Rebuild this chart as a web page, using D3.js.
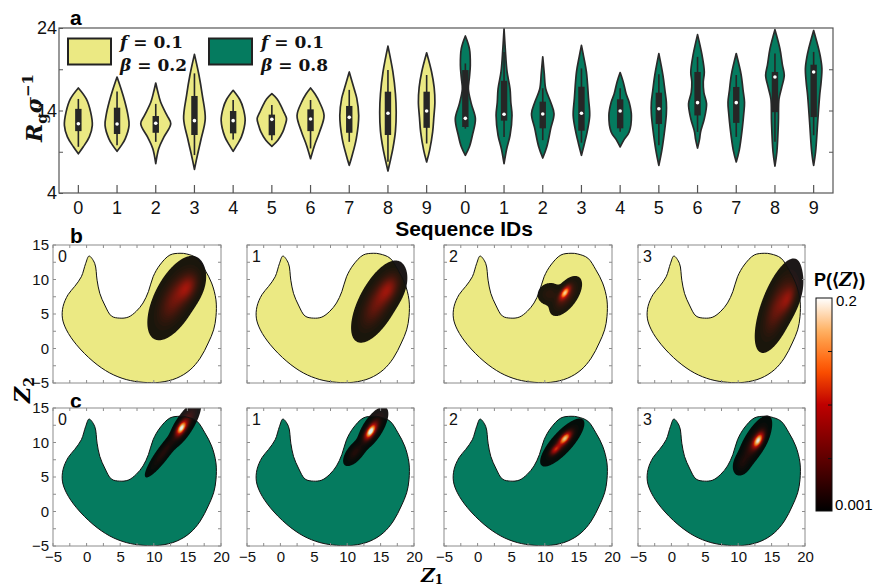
<!DOCTYPE html>
<html><head><meta charset="utf-8">
<script src="https://cdn.jsdelivr.net/npm/d3@7"></script>
<style>body{margin:0;background:#fff}svg{display:block}</style>
</head><body>
<svg id="chart" width="876" height="586"></svg>
<script>
// ---------------- DATA ----------------
const seqIds = ["0","1","2","3","4","5","6","7","8","9"];
const groupLabels = [["f","0.1","β","0.2"],["f","0.1","β","0.8"]];
const groupColors = ["#ebe983","#057b5f"];
// violin profiles: [Rg value, relative half width]
const violinsYellow = [
  [[8.76,0],[9.6,0.33],[10.8,0.73],[12.2,0.93],[13.8,0.82],[15.4,0.53],[16.73,0]],
  [[9.05,0],[9.8,0.3],[10.6,0.55],[12.2,0.8],[13.5,0.72],[15.0,0.53],[16.6,0.27],[18.06,0]],
  [[7.55,0],[9.4,0.2],[10.8,0.55],[12.4,1.0],[13.4,0.75],[15.0,0.33],[16.4,0.12],[17.33,0]],
  [[6.87,0],[8.6,0.2],[10.6,0.45],[13.0,0.72],[15.9,0.52],[18.3,0.3],[20.8,0]],
  [[9.05,0],[9.8,0.25],[10.8,0.55],[12.8,0.8],[14.2,0.68],[15.3,0.45],[16.45,0]],
  [[9.66,0],[10.4,0.4],[11.4,0.73],[12.2,0.88],[13.0,0.98],[13.8,0.8],[14.6,0.6],[15.4,0.35],[16.04,0]],
  [[8.16,0],[9.8,0.27],[11.4,0.6],[13.4,0.9],[15.0,0.6],[16.0,0.3],[16.73,0]],
  [[7.35,0],[8.4,0.17],[10.6,0.47],[13.4,0.63],[15.5,0.5],[16.6,0.33],[18.67,0]],
  [[6.67,0],[7.7,0.13],[9.4,0.33],[11.5,0.5],[13.8,0.55],[16.0,0.5],[18.67,0.33],[21.8,0]],
  [[7.76,0],[9.2,0.2],[11.4,0.4],[13.2,0.48],[15.0,0.55],[16.8,0.5],[18.67,0.33],[21.0,0]]
];
const violinsGreen = [
  [[8.57,0],[9.6,0.27],[11.0,0.47],[13.0,0.67],[14.8,0.4],[16.6,0.2],[18.0,0.27],[19.5,0.33],[21.5,0.27],[23.03,0]],
  [[7.55,0],[9.3,0.17],[11.0,0.4],[13.4,0.53],[15.0,0.45],[16.6,0.4],[18.7,0.2],[21.5,0.08],[23.9,0]],
  [[8.24,0],[9.6,0.27],[11.8,0.53],[13.6,0.75],[15.0,0.53],[16.6,0.2],[18.5,0.1],[20.5,0]],
  [[8.57,0],[10.0,0.2],[11.6,0.4],[13.4,0.55],[15.5,0.47],[18.67,0.33],[20.5,0.15],[21.9,0]],
  [[9.58,0],[10.5,0.27],[11.4,0.6],[13.4,0.75],[15.0,0.6],[16.0,0.4],[17.5,0.2],[18.6,0]],
  [[7.35,0],[9.2,0.2],[11.8,0.4],[13.6,0.5],[15.0,0.5],[16.5,0.4],[18.3,0.27],[20.9,0]],
  [[9.45,0],[10.5,0.13],[11.4,0.2],[13.0,0.45],[14.8,0.6],[16.2,0.42],[17.45,0.38],[18.67,0.45],[20.7,0.3],[23.2,0]],
  [[7.76,0],[9.2,0.2],[11.8,0.4],[13.6,0.5],[15.0,0.55],[16.5,0.45],[18.3,0.33],[20.9,0]],
  [[7.27,0],[9.0,0.13],[12.6,0.23],[15.4,0.27],[16.8,0.45],[18.27,0.62],[19.5,0.5],[21.5,0.33],[23.8,0]],
  [[7.35,0],[9.0,0.13],[12.6,0.27],[15.8,0.4],[17.5,0.5],[19.1,0.55],[20.5,0.45],[21.5,0.33],[23.7,0]]
];
// box stats: [whisker low, q1, median, q3, whisker high]
const boxYellow = [
  [9.6,11.5,12.4,14.2,15.4],[9.8,11.15,12.36,14.34,16.3],[10.2,11.3,12.45,13.33,14.8],
  [8.6,11.03,12.77,15.76,18.5],[10.5,11.23,12.77,13.94,15.27],[10.4,11.0,12.93,13.5,14.67],
  [9.4,11.5,12.97,14.14,15.27],[10.2,11.3,13.17,14.55,16.5],[7.8,11.03,13.66,16.28,18.9],
  [10.0,11.9,13.94,16.28,18.3]
];
const boxGreen = [
  [11.8,12.0,13.05,18.9,19.7],[10.8,12.77,13.54,17.6,21.1],[10.4,11.84,13.58,15.07,16.7],
  [10.1,11.55,13.66,16.88,19.1],[11.43,11.84,13.94,15.36,16.7],[9.8,12.36,14.22,16.16,18.4],
  [11.4,13.4,14.95,18.67,20.5],[10.8,12.5,14.95,16.85,18.3],[10.2,13.8,18.06,18.67,20.9],
  [11.0,13.2,18.67,19.55,21.1]
];
const rgTicks = [4,9,14,19,24];
const rgTickLabels = [4,14,24];

// free-energy landscape outline (Z1, Z2)
const landscape = [[0.37,13.4],[1.2,12.35],[1.56,9.9],[1.96,8.0],[2.7,6.3],[3.7,4.7],[4.94,4.4],[6.2,4.55],
  [7.4,5.4],[8.4,6.6],[9.2,8.25],[9.9,10.4],[10.9,12.1],[12.4,13.55],[13.9,13.8],[14.9,13.7],[16.4,13.1],
  [17.6,11.4],[18.6,9.5],[19.25,7.05],[19.25,4.6],[18.9,2.7],[18.1,0.8],[16.9,-1.4],[15.4,-3.1],[13.4,-4.3],
  [10.9,-4.9],[8.4,-4.9],[5.9,-4.5],[3.45,-3.55],[0.96,-1.87],[-1.5,0.54],[-3.0,2.7],[-3.6,4.4],[-3.5,6.1],
  [-2.76,7.8],[-1.77,9.0],[-0.78,10.4],[-0.13,12.35]];
// probability density components: center [Z1,Z2], sigma [major,minor], angle (deg), peak P
const densityB = [
  [{c:[13.2,7.3],s:[2.4,1.1],a:62,p:0.05},{c:[15.0,8.8],s:[1.3,0.8],a:62,p:0.055}],
  [{c:[14.6,6.75],s:[2.35,1.0],a:61,p:0.05},{c:[16.2,8.6],s:[1.3,0.8],a:61,p:0.05}],
  [{c:[13.0,8.1],s:[0.7,0.32],a:55,p:0.15},{c:[13.1,7.6],s:[1.25,0.62],a:53,p:0.04},{c:[10.7,7.9],s:[0.8,0.7],a:20,p:0.012}],
  [{c:[16.0,6.2],s:[2.6,0.9],a:68.8,p:0.05},{c:[17.5,7.2],s:[1.4,0.6],a:68.8,p:0.05}]
];
const densityC = [
  [{c:[14.1,12.1],s:[0.75,0.35],a:58,p:0.17},{c:[14.6,12.6],s:[1.5,0.5],a:58,p:0.04},{c:[11.5,8.6],s:[1.85,0.4],a:53,p:0.02}],
  [{c:[13.5,11.6],s:[0.8,0.35],a:57,p:0.18},{c:[13.8,12.0],s:[1.35,0.55],a:57,p:0.04},{c:[11.2,8.6],s:[1.0,0.48],a:50,p:0.02}],
  [{c:[13.0,10.6],s:[0.75,0.35],a:47,p:0.15},{c:[11.6,9.0],s:[0.6,0.3],a:45,p:0.09},{c:[12.6,10.0],s:[1.7,0.58],a:47,p:0.035}],
  [{c:[13.0,10.3],s:[0.8,0.38],a:60,p:0.17},{c:[12.4,9.9],s:[1.7,0.62],a:60,p:0.035},{c:[10.6,7.0],s:[0.8,0.55],a:65,p:0.012}]
];
const panelIds = ["0","1","2","3"];
const z1Ticks = [-5,0,5,10,15,20];
const z2Ticks = [-5,0,5,10,15];
const cmapColors = ["#000000","#400000","#800000","#bf0000","#ff5500","#ffaa55","#ffffff"];
const pRange = [0.001, 0.2];
const pTicks = [0.05, 0.1, 0.15];
const pTickLabels = ["0.001","0.2"];

// ---------------- DRAWING ----------------
const svg = d3.select("#chart");
const SANS = "Liberation Sans, Arial, sans-serif";
const SERIF = "DejaVu Serif, serif";
const cmap = d3.piecewise(d3.interpolateRgb, cmapColors);

// ===== Panel a =====
const A = {l:59, r:833, t:28, b:193};
const allViolins = violinsYellow.concat(violinsGreen);
const allBoxes = boxYellow.concat(boxGreen);
const x = d3.scaleBand().domain(d3.range(allViolins.length)).range([A.l, A.r]);
const y = d3.scaleLinear().domain([4,24]).range([A.b, A.t]);
const w = d3.scaleLinear().domain([0,1]).range([0,15]);
const gA = svg.append("g");

allViolins.forEach((prof, i) => {
  const cx = x(i) + x.bandwidth()/2;
  const col = groupColors[i < 10 ? 0 : 1];
  const area = d3.area().curve(d3.curveCatmullRom.alpha(0.5))
    .y(d => y(d[0])).x0(d => cx - w(d[1])).x1(d => cx + w(d[1]));
  gA.append("path").attr("d", area(prof)).attr("fill", col)
    .attr("stroke", "#2a2a2a").attr("stroke-width", 1.7).attr("stroke-linejoin","round");
  const bs = allBoxes[i];
  gA.append("line").attr("x1", cx).attr("x2", cx).attr("y1", y(bs[0])).attr("y2", y(bs[4]))
    .attr("stroke", "#262626").attr("stroke-width", 1.6);
  gA.append("rect").attr("x", cx-3.2).attr("width", 6.4).attr("y", y(bs[3])).attr("height", y(bs[1]) - y(bs[3]))
    .attr("fill", "#262626");
  gA.append("circle").attr("cx", cx).attr("cy", y(bs[2])).attr("r", 1.8).attr("fill", "#fff");
});

gA.append("rect").attr("x", A.l).attr("y", A.t).attr("width", A.r-A.l).attr("height", A.b-A.t)
  .attr("fill","none").attr("stroke","#555").attr("stroke-width",1.2);

const xAxis = d3.axisBottom(x).tickSize(-8).tickPadding(8).tickFormat(i => seqIds[i % 10]);
const gx = gA.append("g").attr("transform", `translate(0,${A.b})`).call(xAxis);
gx.select(".domain").remove();
gx.selectAll("line").attr("stroke","#555").attr("stroke-width",1.2);
gx.selectAll("text").attr("font-family", SANS).attr("font-size", 18).attr("fill","#111");

const yAxis = d3.axisLeft(y).tickValues(rgTicks).tickSize(-4).tickPadding(2)
  .tickFormat(v => rgTickLabels.includes(v) ? v : "");
const gy = gA.append("g").attr("transform", `translate(${A.l},0)`).call(yAxis);
gy.select(".domain").remove();
gy.selectAll("line").attr("stroke","#555");
gy.selectAll("text").attr("font-family", SANS).attr("font-size", 18).attr("fill","#111");
const yAxisR = d3.axisRight(y).tickValues(rgTicks.slice(1,4)).tickSize(-4).tickFormat("");
const gyr = gA.append("g").attr("transform", `translate(${A.r},0)`).call(yAxisR);
gyr.select(".domain").remove();
gyr.selectAll("line").attr("stroke","#555");

// axis titles
gA.append("text").attr("x", 464).attr("y", 236).attr("text-anchor","middle")
  .attr("font-family", SANS).attr("font-weight","bold").attr("font-size", 21).text("Sequence IDs");
const yl = gA.append("text").attr("transform","translate(42,108) rotate(-90)").attr("text-anchor","middle")
  .attr("font-family", SERIF).attr("font-weight","bold").attr("font-size", 22).attr("fill","#111");
yl.append("tspan").attr("font-style","italic").text("R");
yl.append("tspan").attr("font-size",15).attr("dy",5).text("g");
yl.append("tspan").attr("font-style","italic").attr("dy",-5).text("σ");
yl.append("tspan").attr("font-size",15).attr("dy",-9).text("−1");

// panel letters
[["a",25],["b",243],["c",408]].forEach(([t,yy]) =>
  svg.append("text").attr("x",70).attr("y",yy).attr("font-family",SANS).attr("font-weight","bold")
    .attr("font-size",21).text(t));

// legend
groupLabels.forEach((lab, k) => {
  const lx = [68, 209][k];
  svg.append("rect").attr("x", lx).attr("y", 38.5).attr("width", 43).attr("height", 26)
    .attr("fill", groupColors[k]).attr("stroke","#222").attr("stroke-width",2);
  [[lab[0],lab[1],48],[lab[2],lab[3],71]].forEach(([sym,val,by]) => {
    const t = svg.append("text").attr("x", lx + 52).attr("y", by).attr("font-family", SERIF)
      .attr("font-weight","bold").attr("font-size",17).attr("fill","#111");
    t.append("tspan").attr("font-style","italic").text(sym);
    t.append("tspan").text(" = " + val);
  });
});

// ===== Panels b & c =====
const colX = [[53,221],[247,414],[444,612],[638,805]];
const rowY = [[245,383],[408,546]];
const rows = [{dens: densityB, fill: groupColors[0]}, {dens: densityC, fill: groupColors[1]}];
const step = 0.1, nx = 251, ny = 201;
const nLev = 50;
const levels = d3.range(nLev).map(k => pRange[0] + (pRange[1]-pRange[0]) * k / nLev);

function grid(comps){
  const vals = new Float64Array(nx*ny);
  const pre = comps.map(c => {const r = c.a*Math.PI/180; return {cx:c.c[0], cy:c.c[1], co:Math.cos(r), si:Math.sin(r), a2:c.s[0]*c.s[0], b2:c.s[1]*c.s[1], p:c.p};});
  for (let j=0;j<ny;j++){ const z2 = -5 + j*step;
    for (let i=0;i<nx;i++){ const z1 = -5 + i*step; let v = 0;
      for (const c of pre){ const dx=z1-c.cx, dy=z2-c.cy; const u=dx*c.co+dy*c.si, vv=-dx*c.si+dy*c.co;
        v += c.p*Math.exp(-0.5*(u*u/c.a2 + vv*vv/c.b2)); }
      vals[i + j*nx] = v; } }
  return vals;
}

let clipN = 0;
rows.forEach((row, ri) => {
  colX.forEach((cx, ci) => {
    const [x0,x1] = cx, [y0,y1] = rowY[ri];
    const zx = d3.scaleLinear().domain([-5,20]).range([x0,x1]);
    const zy = d3.scaleLinear().domain([-5,15]).range([y1,y0]);
    const id = "clip" + (clipN++);
    svg.append("clipPath").attr("id", id).append("rect").attr("x",x0).attr("y",y0).attr("width",x1-x0).attr("height",y1-y0);
    const g = svg.append("g").attr("clip-path", `url(#${id})`);
    const line = d3.line().curve(d3.curveCatmullRomClosed.alpha(0.5)).x(d=>zx(d[0])).y(d=>zy(d[1]));
    g.append("path").attr("d", line(landscape)).attr("fill", row.fill);
    const vals = grid(row.dens[ci]);
    const conts = d3.contours().size([nx,ny]).thresholds(levels)(vals);
    const proj = d3.geoTransform({point(px,py){ this.stream.point(zx(-5+(px-0.5)*step), zy(-5+(py-0.5)*step)); }});
    const gp = d3.geoPath(proj);
    const gb = g.append("g").attr("opacity",0.9);
    conts.forEach((c,k) => {
      if (!c.coordinates.length) return;
      gb.append("path").attr("d", gp(c)).attr("fill", cmap((k+0.5)/nLev));
    });
    g.append("path").attr("d", line(landscape)).attr("fill","none").attr("stroke","#111").attr("stroke-width",1);
    svg.append("rect").attr("x",x0).attr("y",y0).attr("width",x1-x0).attr("height",y1-y0)
      .attr("fill","none").attr("stroke","#8c8c8c").attr("stroke-width",1);
    const tx = d3.range(-5, 20.01, 2.5), ty = d3.range(-5, 15.01, 2.5);
    const tk = svg.append("g").attr("stroke","#8c8c8c").attr("stroke-width",1);
    tx.forEach(v => { tk.append("line").attr("x1",zx(v)).attr("x2",zx(v)).attr("y1",y1).attr("y2",y1-3);
                      tk.append("line").attr("x1",zx(v)).attr("x2",zx(v)).attr("y1",y0).attr("y2",y0+3); });
    ty.forEach(v => { tk.append("line").attr("y1",zy(v)).attr("y2",zy(v)).attr("x1",x0).attr("x2",x0+3);
                      tk.append("line").attr("y1",zy(v)).attr("y2",zy(v)).attr("x1",x1).attr("x2",x1-3); });
    svg.append("text").attr("x", x0+5).attr("y", y0+17).attr("font-family",SANS).attr("font-size",16)
      .attr("fill","#111").text(panelIds[ci]);
    if (ci === 0) {
      const ay = d3.axisLeft(zy).tickValues(z2Ticks).tickSize(0).tickPadding(4);
      const ga = svg.append("g").attr("transform",`translate(${x0},0)`).call(ay);
      ga.select(".domain").remove();
      ga.selectAll("text").attr("font-family",SANS).attr("font-size",15).attr("fill","#111");
    }
    if (ri === 1) {
      const ax = d3.axisBottom(zx).tickValues(z1Ticks).tickSize(0).tickPadding(5);
      const ga = svg.append("g").attr("transform",`translate(0,${y1})`).call(ax);
      ga.select(".domain").remove();
      ga.selectAll("text").attr("font-family",SANS).attr("font-size",15).attr("fill","#111");
    }
  });
});

// Z labels
const z2l = svg.append("text").attr("transform","translate(30,390) rotate(-90)").attr("text-anchor","middle")
  .attr("font-family",SERIF).attr("font-weight","bold").attr("font-style","italic").attr("font-size",22);
z2l.append("tspan").text("Z");
z2l.append("tspan").attr("font-size",14).attr("font-style","normal").attr("dy",4).text("2");
const z1l = svg.append("text").attr("x",432).attr("y",582).attr("text-anchor","middle")
  .attr("font-family",SERIF).attr("font-weight","bold").attr("font-style","italic").attr("font-size",19);
z1l.append("tspan").text("Z");
z1l.append("tspan").attr("font-size",12).attr("font-style","normal").attr("dy",2).text("1");

// ===== Colorbar =====
const CB = {x:816, w:16, t:298, b:511};
const grad = svg.append("defs").append("linearGradient").attr("id","cbg")
  .attr("x1",0).attr("y1",1).attr("x2",0).attr("y2",0);
d3.range(0,1.0001,0.05).forEach(t => grad.append("stop").attr("offset",t).attr("stop-color",cmap(t)));
svg.append("rect").attr("x",CB.x).attr("y",CB.t).attr("width",CB.w).attr("height",CB.b-CB.t)
  .attr("fill","url(#cbg)").attr("stroke","#111").attr("stroke-width",1);
const cy = d3.scaleLinear().domain(pRange).range([CB.b, CB.t]);
pTicks.forEach(v => svg.append("line").attr("x1",CB.x+CB.w).attr("x2",CB.x+CB.w-4)
  .attr("y1",cy(v)).attr("y2",cy(v)).attr("stroke","#111"));
svg.append("text").attr("x",CB.x+CB.w+4).attr("y",cy(pRange[1])+8).attr("font-family",SANS).attr("font-size",15).text(pTickLabels[1]);
svg.append("text").attr("x",CB.x+CB.w+3).attr("y",cy(pRange[0])-1).attr("font-family",SANS).attr("font-size",15).text(pTickLabels[0]);
const ct = svg.append("text").attr("x",814).attr("y",286).attr("font-family",SANS).attr("font-weight","bold").attr("font-size",18);
ct.append("tspan").text("P(⟨");
ct.append("tspan").attr("font-family",SERIF).attr("font-style","italic").text("Z");
ct.append("tspan").text("⟩)");
</script>
</body></html>
